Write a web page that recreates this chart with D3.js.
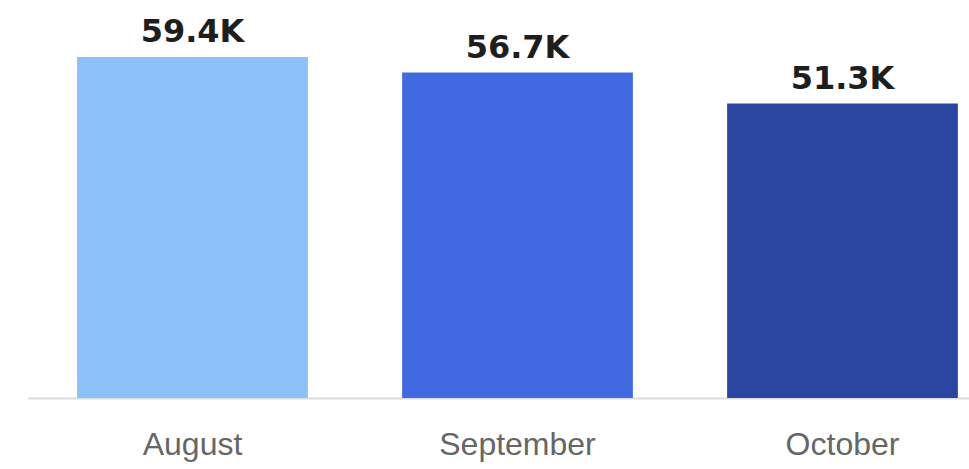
<!DOCTYPE html>
<html>
<head>
<meta charset="utf-8">
<script src="https://cdn.jsdelivr.net/npm/d3@7"></script>
<style>
  body { margin: 0; background: #fff; }
</style>
</head>
<body>
<div id="chart"></div>
<script>
(function() {
  var months = ["August", "September", "October"];
  var values = [59.4, 56.7, 51.3];
  var valueLabels = ["59.4K", "56.7K", "51.3K"];
  var barColors = ["#8cc0f8", "#4169e0", "#2a46a0"];

  var width = 969, height = 469;

  var svg = d3.select("#chart")
    .append("svg")
    .attr("width", width)
    .attr("height", height);

  var xPositionScale = d3.scaleBand()
    .domain(months)
    .range([30, 1005])
    .paddingInner(0.29)
    .paddingOuter(0.145);

  var yPositionScale = d3.scaleLinear()
    .domain([0, 59.4])
    .range([398, 57]);

  var colorScale = d3.scaleOrdinal().domain(months).range(barColors);

  var data = months.map(function(m, i) {
    return { month: m, value: values[i], label: valueLabels[i] };
  });

  // baseline
  svg.append("line")
    .attr("x1", 28)
    .attr("x2", width)
    .attr("y1", yPositionScale(0) + 0.5)
    .attr("y2", yPositionScale(0) + 0.5)
    .attr("stroke", "#dcdcdc")
    .attr("stroke-width", 2);

  svg.selectAll(".bar")
    .data(data)
    .enter()
    .append("rect")
    .attr("class", "bar")
    .attr("x", function(d) { return xPositionScale(d.month) })
    .attr("width", xPositionScale.bandwidth())
    .attr("y", function(d) { return yPositionScale(d.value) })
    .attr("height", function(d) { return yPositionScale(0) - yPositionScale(d.value) })
    .attr("fill", function(d) { return colorScale(d.month) });

  svg.selectAll(".value-label")
    .data(data)
    .enter()
    .append("text")
    .attr("class", "value-label")
    .attr("x", function(d) { return xPositionScale(d.month) + xPositionScale.bandwidth() / 2 })
    .attr("y", function(d) { return yPositionScale(d.value) - 15 })
    .attr("text-anchor", "middle")
    .attr("font-family", "DejaVu Sans, sans-serif")
    .attr("font-weight", "bold")
    .attr("font-size", 32)
    .attr("fill", "#1e1e1e")
    .text(function(d) { return d.label });

  // month labels via axis
  var xAxis = d3.axisBottom(xPositionScale).tickSize(0).tickPadding(0);
  var axisG = svg.append("g")
    .attr("class", "x-axis")
    .attr("transform", "translate(0,455)")
    .call(xAxis);
  axisG.select(".domain").remove();
  axisG.selectAll("text")
    .attr("dy", 0)
    .attr("y", 0)
    .attr("font-family", "Liberation Sans, Arial, sans-serif")
    .attr("font-size", 32)
    .attr("fill", "#666");
})();
</script>
</body>
</html>
